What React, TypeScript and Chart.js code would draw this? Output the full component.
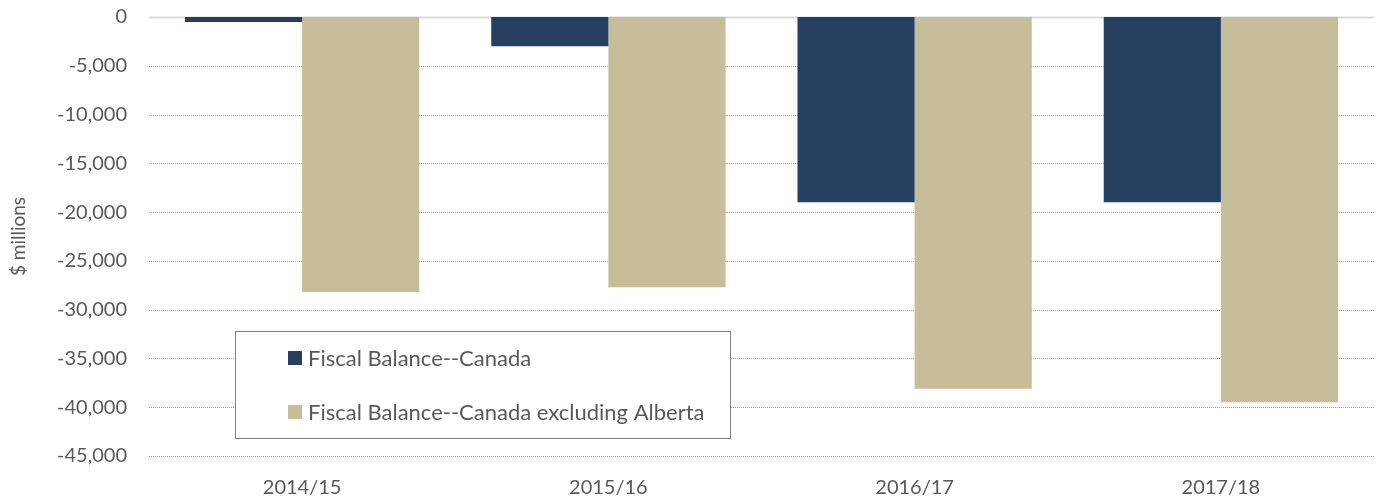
import React, { useEffect, useRef } from "react";
import { Chart, registerables } from "chart.js";

Chart.register(...registerables);

const categories = ["2014/15", "2015/16", "2016/17", "2017/18"];
const seriesNames = ["Fiscal Balance--Canada", "Fiscal Balance--Canada excluding Alberta"];
const canadaValues = [-500, -3000, -19000, -19000];
const exAlbertaValues = [-28200, -27700, -38100, -39500];
const seriesColors = ["#253F60", "#C5BE98"];
const yMin = -45000;
const yMax = 0;
const yStep = 5000;

const FONT = "Lato, 'Open Sans', sans-serif";
const TEXT = "#595959";

const gridPlugin = {
  id: "dottedGrid",
  beforeDatasetsDraw(chart: any) {
    const { ctx, chartArea, scales } = chart;
    const y = scales.y;
    ctx.save();
    y.ticks.forEach((t: any) => {
      const py = Math.round(y.getPixelForValue(t.value)) + 0.5;
      ctx.beginPath();
      if (t.value === 0) {
        ctx.setLineDash([]);
        ctx.strokeStyle = "#D9D9D9";
        ctx.lineWidth = 2;
      } else {
        ctx.setLineDash([1, 1]);
        ctx.strokeStyle = "#A0A0A0";
        ctx.lineWidth = 1;
      }
      ctx.moveTo(chartArea.left, py);
      ctx.lineTo(chartArea.right, py);
      ctx.stroke();
    });
    ctx.restore();
  },
};

const legendPlugin = {
  id: "boxLegend",
  afterDraw(chart: any) {
    const { ctx, chartArea } = chart;
    const x0 = chartArea.left + 86;
    const y0 = chartArea.top + 314;
    const w = 495;
    const h = 107;
    ctx.save();
    ctx.fillStyle = "#FFFFFF";
    ctx.fillRect(x0, y0, w, h);
    ctx.strokeStyle = "#808080";
    ctx.lineWidth = 1;
    ctx.strokeRect(x0 + 0.5, y0 + 0.5, w, h);
    ctx.font = `22px ${FONT}`;
    ctx.textBaseline = "middle";
    ctx.textAlign = "left";
    const rows = [27, 81];
    chart.data.datasets.forEach((ds: any, i: number) => {
      const cy = y0 + rows[i];
      ctx.fillStyle = ds.backgroundColor;
      ctx.fillRect(x0 + 53, cy - 7, 14, 14);
      ctx.fillStyle = TEXT;
      ctx.fillText(ds.label, x0 + 73, cy + 1);
    });
    ctx.restore();
  },
};

export default function App() {
  const ref = useRef<HTMLCanvasElement | null>(null);
  useEffect(() => {
    document.body.style.margin = "0";
    const chart = new Chart(ref.current as HTMLCanvasElement, {
      type: "bar",
      data: {
        labels: categories,
        datasets: [
          { label: seriesNames[0], data: canadaValues, backgroundColor: seriesColors[0] },
          { label: seriesNames[1], data: exAlbertaValues, backgroundColor: seriesColors[1] },
        ],
      },
      options: {
        animation: false,
        responsive: true,
        maintainAspectRatio: false,
        layout: { padding: { top: 17, right: 5, left: 0, bottom: 0 } },
        datasets: { bar: { categoryPercentage: 0.765, barPercentage: 1.0 } } as any,
        plugins: { legend: { display: false }, tooltip: { enabled: false } },
        scales: {
          x: {
            grid: { display: false, drawTicks: false },
            border: { display: false },
            ticks: { color: TEXT, font: { family: FONT, size: 20 }, padding: 20 },
            afterFit(scale: any) {
              scale.height = 43;
              scale.paddingLeft = 0;
              scale.paddingRight = 0;
            },
          },
          y: {
            min: yMin,
            max: yMax,
            grid: { display: false, drawTicks: false },
            border: { display: false },
            ticks: {
              stepSize: yStep,
              color: TEXT,
              font: { family: FONT, size: 20 },
              padding: 22,
              callback: (v: any) => Number(v).toLocaleString("en-US"),
            },
            title: {
              display: true,
              text: "$ millions",
              color: TEXT,
              font: { family: FONT, size: 19 },
              padding: { top: 7, bottom: 4 },
            },
            afterFit(scale: any) {
              scale.width = 149;
              scale.paddingTop = 0;
              scale.paddingBottom = 0;
            },
          },
        },
      },
      plugins: [gridPlugin, legendPlugin],
    });
    return () => chart.destroy();
  }, []);
  return (
    <div style={{ width: 1379, height: 499, position: "relative" }}>
      <canvas ref={ref} />
    </div>
  );
}
